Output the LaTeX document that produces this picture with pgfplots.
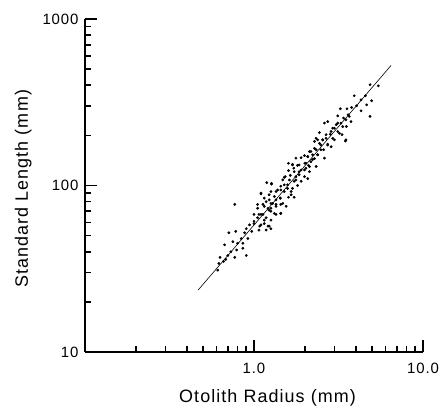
\documentclass[border=0pt]{standalone}
\usepackage{pgfplots}
\pgfplotsset{compat=1.18}
\usepackage{fontspec}
\setmainfont{Liberation Sans}[LetterSpace=6]
\begin{document}
\begin{tikzpicture}
\begin{axis}[
  name=ax,
  scale only axis,
  width=338bp, height=333bp,
  xmode=log, ymode=log,
  xmin=0.1, xmax=10, ymin=10, ymax=1000,
  axis x line*=bottom, axis y line*=left,
  axis line style={-, line width=1.3pt},
  xtick align=inside, ytick align=inside,
  major tick style={black, line width=2pt},
  minor tick style={black, line width=1.6pt},
  major tick length=12bp, minor tick length=6bp,
  xtick={1,10}, xticklabels={1.0,10.0},
  minor xtick={0.2,0.3,0.4,0.5,0.6,0.7,0.8,0.9,2,3,4,5,6,7,8,9},
  ytick={10,100,1000}, yticklabels={10,100,1000},
  minor ytick={20,30,40,50,60,70,80,90,200,300,400,500,600,700,800,900},
  /pgf/number format/assume math mode=true,
  ticklabel style={font=\fontsize{15}{16}\selectfont},
  xticklabel style={yshift=-8bp},
  yticklabel style={xshift=-3bp},
  xlabel={Otolith Radius (mm)},
  ylabel={Standard Length (mm)},
  label style={font=\fontsize{18}{20}\selectfont},
  xlabel style={at={(axis description cs:0.54,0)}, anchor=north, yshift=-34bp},
  ylabel style={at={(axis description cs:0,0.49)}, anchor=south, yshift=50bp},
]
\addplot[black, line width=0.6pt] coordinates {(0.468,23.6) (6.47,526)};
\addplot[only marks, mark=*, mark size=1.2bp, black] coordinates {
(4.86,403) (5.44,397) (3.92,346) (4.56,346) (4.30,327) (4.97,323) (4.64,305) (4.05,301)
(4.30,281) (3.55,289) (3.78,294) (3.24,289) (3.61,266) (3.39,254) (3.13,262) (3.75,242)
(3.52,226) (3.27,237) (3.07,232) (2.73,242) (2.61,237) (4.86,260) (3.47,185) (2.92,221)
(2.83,203) (3.13,211) (3.32,202) (2.99,188) (2.67,192) (2.55,188) (2.73,177) (2.44,208)
(2.38,188) (2.49,175) (2.28,184) (2.33,164) (2.58,164) (2.13,160) (2.22,153) (2.38,153)
(2.08,149) (1.99,151) (1.90,147) (1.77,146) (1.60,136) (1.69,133) (1.85,133) (2.03,136)
(2.28,145) (2.17,139) (2.33,130) (2.13,130) (1.99,124) (1.85,121) (1.77,113) (1.72,127)
(1.60,123) (1.53,113) (1.62,108) (1.73,106) (1.48,108) (1.51,101) (1.58,96) (1.66,92)
(1.44,94) (1.35,92) (1.43,84) (1.35,82) (1.26,92) (1.19,104) (1.27,103) (1.10,90)
(1.15,84) (1.23,82) (1.29,78) (1.44,77) (1.55,75) (1.35,75) (1.26,73) (1.13,77)
(1.05,73) (1.21,73) (1.13,67) (1.26,70) (1.18,64) (1.35,67) (1.44,68) (1.00,67)
(1.07,67) (0.94,58) (1.00,61) (1.08,57) (1.15,59) (1.23,57) (0.90,55) (0.97,53)
(0.88,52) (0.92,48) (0.84,48) (0.77,77) (0.71,52) (0.78,53) (0.86,45) (0.80,45)
(0.75,46) (0.67,44) (0.73,40) (0.70,38) (0.79,41) (0.86,42) (0.90,38) (0.63,37)
(0.66,35) (0.62,34) (0.68,36) (0.61,31) (0.77,37)
(1.69,134) (1.81,132) (2.00,136) (2.10,132) (1.90,124) (2.03,127) (2.13,121) (1.73,121)
(1.64,115) (1.85,116) (1.99,113) (1.51,112) (1.77,108) (1.90,106) (2.08,110) (1.27,102)
(1.44,99) (1.58,101) (1.69,96) (1.81,100) (1.38,94) (1.51,92) (1.66,88) (1.10,89)
(1.23,88) (1.32,86) (1.43,84) (1.60,85) (1.73,85) (1.18,80) (1.26,78) (1.35,77)
(1.48,78) (1.05,77) (1.15,75) (1.23,71) (1.32,68) (1.44,68) (1.10,67) (1.05,64)
(1.15,62) (1.26,62) (1.00,59) (1.10,58) (1.21,57) (1.07,54) (1.18,54) (1.26,55)
(3.50,248) (3.66,260) (3.13,237) (3.35,226) (2.99,221) (2.86,211) (3.20,206) (2.67,202)
(2.92,192) (3.50,188) (2.55,188) (2.33,192) (2.44,179) (2.73,175) (2.86,171) (2.28,167)
(2.49,164) (2.17,160) (2.38,153) (2.08,149) (2.22,143) (2.61,146)
};
\end{axis}
\pgfresetboundingbox
\path[use as bounding box] ([shift={(-85bp,-55bp)}]ax.south west) rectangle ([shift={(17bp,19bp)}]ax.north east);
\end{tikzpicture}
\end{document}
